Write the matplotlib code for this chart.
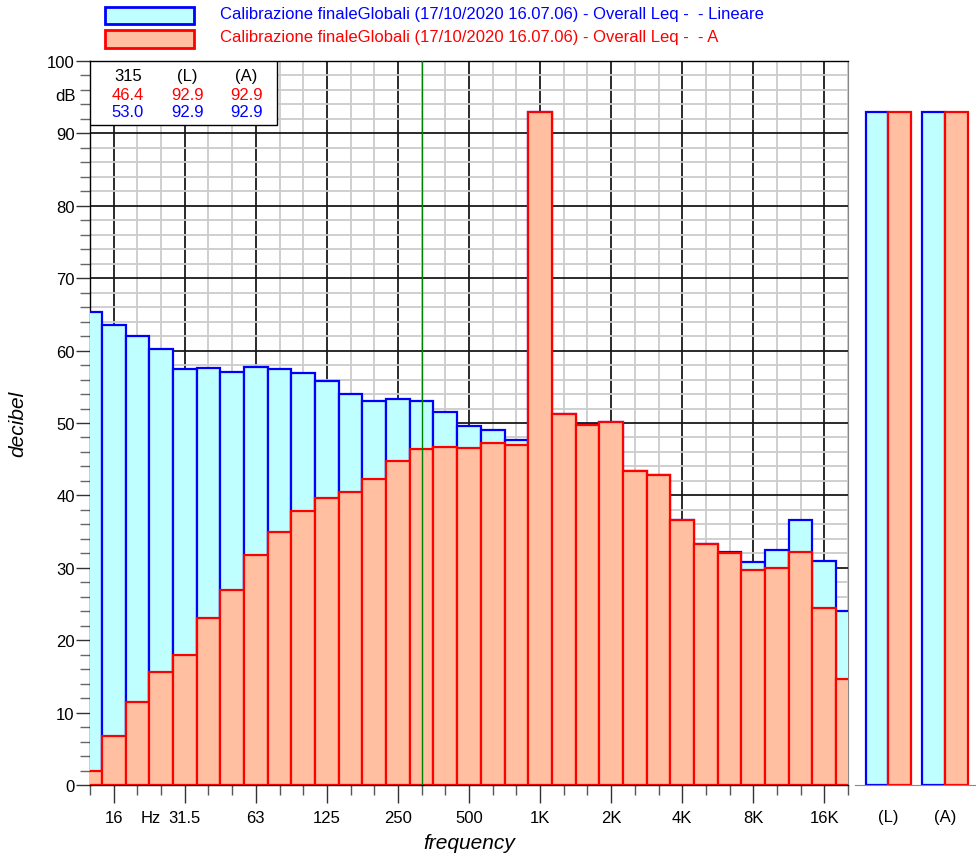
import matplotlib
import matplotlib.pyplot as plt
from matplotlib.patches import Rectangle
from matplotlib.ticker import MultipleLocator, FixedLocator
import numpy as np

matplotlib.use('Agg')
plt.rcParams['font.family'] = ['Liberation Sans', 'DejaVu Sans']

# bande di terzo d'ottava 12.5 Hz .. 20 kHz
bande = ['12.5', '16', '20', '25', '31.5', '40', '50', '63', '80', '100', '125', '160',
         '200', '250', '315', '400', '500', '630', '800', '1K', '1.25K', '1.6K', '2K',
         '2.5K', '3.15K', '4K', '5K', '6.3K', '8K', '10K', '12.5K', '16K', '20K']
lineare = [65.3, 63.5, 62.0, 60.2, 57.5, 57.6, 57.1, 57.8, 57.5, 56.9, 55.8, 54.0, 53.1,
           53.3, 53.0, 51.5, 49.6, 49.1, 47.7, 92.9, 51.3, 49.8, 50.2, 43.4, 42.8, 36.6,
           33.3, 32.2, 30.8, 32.5, 36.6, 31.0, 24.0]
pesata_a = [1.9, 6.8, 11.5, 15.6, 18.0, 23.0, 26.9, 31.7, 35.0, 37.8, 39.7, 40.5, 42.3,
            44.7, 46.4, 46.7, 46.6, 47.2, 46.9, 92.9, 51.3, 49.7, 50.2, 43.4, 42.8, 36.6,
            33.3, 32.0, 29.7, 30.0, 32.2, 24.5, 14.7]
etichette_ottave = ['16', '31.5', '63', '125', '250', '500', '1K', '2K', '4K', '8K', '16K']
globali_nomi = ['(L)', '(A)']
globali_lin = [92.9, 92.9]
globali_a = [92.9, 92.9]
cursore = '315'
cursore_a = 46.4
cursore_lin = 53.0

CIANO = '#C0FFFF'
SALMONE = '#FFBFA0'
BLU = '#0000FF'
ROSSO = '#FF0000'
FS = 12

W, H = 976, 854
fig = plt.figure(figsize=(W / 100, H / 100), dpi=100)


def px(x0, y0, x1, y1):
    return [x0 / W, 1 - y1 / H, (x1 - x0) / W, (y1 - y0) / H]


ax = fig.add_axes(px(90, 62, 848, 786))
x = np.arange(len(bande))

ax.bar(x, lineare, width=1.0, color=CIANO, edgecolor=BLU, linewidth=1.6, zorder=3)
ax.bar(x, pesata_a, width=1.0, color=SALMONE, edgecolor=ROSSO, linewidth=1.6, zorder=4)

ax.set_xlim(0, len(bande) - 1)
ax.set_ylim(0, 100)

idx_ottave = [bande.index(e) for e in etichette_ottave]
ax.xaxis.set_major_locator(FixedLocator(idx_ottave))
ax.set_xticklabels(etichette_ottave)
ax.xaxis.set_minor_locator(FixedLocator([i for i in x if i not in idx_ottave]))
ax.yaxis.set_major_locator(MultipleLocator(10))
ax.yaxis.set_minor_locator(MultipleLocator(2))

ax.grid(which='minor', color='#cccccc', linewidth=1.3, zorder=0)
ax.grid(which='major', color='#1a1a1a', linewidth=1.3, zorder=1)
ax.set_axisbelow(True)

ax.tick_params(axis='x', which='major', length=13, width=1.0, color='#333333',
               labelsize=FS, pad=5)
ax.tick_params(axis='x', which='minor', length=7, width=1.0, color='#555555')
ax.tick_params(axis='y', which='major', length=10, width=1.0, color='#333333',
               labelsize=FS, pad=1)
ax.tick_params(axis='y', which='minor', length=7, width=1.0, color='#666666')

for s in ['left', 'bottom', 'top']:
    ax.spines[s].set_color('black')
    ax.spines[s].set_linewidth(1.0)
ax.spines['right'].set_color('#888888')

ax.set_ylabel('decibel', fontsize=15, style='italic', labelpad=14)
ax.set_xlabel('frequency', fontsize=15, style='italic', labelpad=6)

# "Hz" fra le etichette e "dB" sull'asse y
ax.text(2.55, -25 / 724, 'Hz', transform=ax.get_xaxis_transform(), ha='center', va='top',
        fontsize=FS)
ax.text(-25 / 758, 95.2, 'dB', transform=ax.get_yaxis_transform(), ha='center',
        va='center', fontsize=FS)

# cursore sulla banda 315 Hz
ax.axvline(bande.index(cursore), color='#008000', linewidth=1.0, zorder=5)

# riquadro valori
ax.add_patch(Rectangle((0, 91.2), 7.9, 8.8, facecolor='white', edgecolor='black',
                       linewidth=1.0, zorder=6))
colonne = [1.6, 4.1, 6.6]
for cx, t in zip(colonne, [cursore] + globali_nomi):
    ax.text(cx, 98.0, t, ha='center', va='center', fontsize=FS, color='black', zorder=7)
for cx, v in zip(colonne, [cursore_a] + globali_a):
    ax.text(cx, 95.4, f'{v:.1f}', ha='center', va='center', fontsize=FS, color=ROSSO, zorder=7)
for cx, v in zip(colonne, [cursore_lin] + globali_lin):
    ax.text(cx, 93.0, f'{v:.1f}', ha='center', va='center', fontsize=FS, color=BLU, zorder=7)

# pannello globali
ax2 = fig.add_axes(px(855, 62, 976, 786))
g = np.arange(len(globali_nomi))
ax2.bar(g - 0.2, globali_lin, width=0.4, color=CIANO, edgecolor=BLU, linewidth=1.6)
ax2.bar(g + 0.2, globali_a, width=0.4, color=SALMONE, edgecolor=ROSSO, linewidth=1.6)
ax2.set_xlim(-0.59, 1.55)
ax2.set_ylim(0, 100)
ax2.set_xticks(g)
ax2.set_xticklabels(globali_nomi)
ax2.tick_params(axis='x', length=0, labelsize=FS, pad=17)
ax2.set_yticks([])
for s in ['left', 'right', 'top']:
    ax2.spines[s].set_visible(False)
ax2.spines['bottom'].set_color('#888888')
ax2.patch.set_alpha(0)

# legenda in alto
fig.patches.append(Rectangle((105 / W, 1 - 25 / H), 89 / W, 17 / H, transform=fig.transFigure,
                             facecolor=CIANO, edgecolor=BLU, linewidth=2.0))
fig.patches.append(Rectangle((105 / W, 1 - 48.5 / H), 89 / W, 17.5 / H,
                             transform=fig.transFigure,
                             facecolor=SALMONE, edgecolor=ROSSO, linewidth=2.0))
fig.text(220 / W, 1 - 14.5 / H,
         'Calibrazione finaleGlobali (17/10/2020 16.07.06) - Overall Leq -  - Lineare',
         color=BLU, fontsize=FS, va='center', ha='left')
fig.text(220 / W, 1 - 37.5 / H,
         'Calibrazione finaleGlobali (17/10/2020 16.07.06) - Overall Leq -  - A',
         color=ROSSO, fontsize=FS, va='center', ha='left')

fig.savefig('out.png', dpi=100)
